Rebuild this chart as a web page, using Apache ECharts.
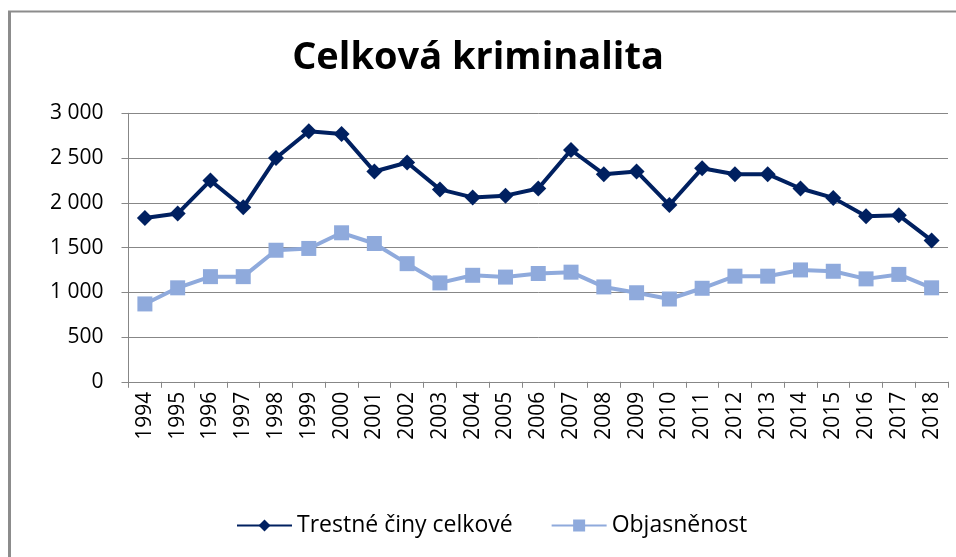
<!DOCTYPE html>
<html>
<head>
<meta charset="utf-8">
<script src="https://cdn.jsdelivr.net/npm/echarts@6/dist/echarts.min.js"></script>
<style>
html,body{margin:0;padding:0;background:#fff;}
#chart{width:956px;height:557px;}
</style>
</head>
<body>
<div id="chart"></div>
<script>
const years = ['1994','1995','1996','1997','1998','1999','2000','2001','2002','2003','2004','2005','2006','2007','2008','2009','2010','2011','2012','2013','2014','2015','2016','2017','2018'];
const trestneCiny = [1830,1880,2250,1950,2500,2800,2770,2350,2450,2150,2060,2080,2160,2590,2320,2350,1975,2385,2320,2320,2160,2055,1850,1860,1580];
const objasnenost = [870,1050,1175,1175,1470,1490,1665,1545,1320,1105,1190,1170,1210,1225,1060,995,925,1045,1180,1180,1250,1235,1150,1200,1050];
const seriesNames = ['Trestné činy celkové','Objasněnost'];
const titleText = 'Celková kriminalita';

const font = '"Open Sans", Lato, sans-serif';
const chart = echarts.init(document.getElementById('chart'));
chart.setOption({
  animation: false,
  backgroundColor: '#fff',
  graphic: [
    {type:'line', shape:{x1:8,y1:11.5,x2:956,y2:11.5}, style:{stroke:'#8c8c8c', lineWidth:2}},
    {type:'line', shape:{x1:9.5,y1:11,x2:9.5,y2:557}, style:{stroke:'#8c8c8c', lineWidth:3}}
  ],
  title: {
    text: titleText,
    left: 'center',
    top: 34,
    textStyle: {fontFamily: font, fontWeight: 'bold', fontSize: 38, color: '#000'}
  },
  legend: {
    bottom: 20,
    left: 236,
    padding: 0,
    itemWidth: 55,
    itemHeight: 15,
    itemGap: 38,
    textStyle: {fontFamily: font, fontSize: 23, color: '#000'},
    data: seriesNames
  },
  grid: {left: 128.5, right: 8, top: 113.3, bottom: 175.2, containLabel: false},
  xAxis: {
    type: 'category',
    data: years,
    boundaryGap: true,
    axisLine: {lineStyle: {color: '#878787', width: 1}},
    axisTick: {show: true, length: 6, lineStyle: {color: '#878787'}},
    axisLabel: {rotate: 90, fontFamily: font, fontSize: 21, color: '#000', margin: 10, interval: 0}
  },
  yAxis: {
    type: 'value',
    min: 0, max: 3000, interval: 500,
    axisLine: {show: true, lineStyle: {color: '#878787'}},
    axisTick: {show: true, length: 7, lineStyle: {color: '#878787'}},
    splitLine: {lineStyle: {color: '#878787', width: 1}},
    axisLabel: {
      fontFamily: font, fontSize: 21, color: '#000', margin: 25,
      formatter: v => String(v).replace(/\B(?=(\d{3})+(?!\d))/g, ' ')
    }
  },
  series: [
    {
      name: seriesNames[0], type: 'line', data: trestneCiny,
      symbol: 'diamond', symbolSize: 16, showAllSymbol: true,
      lineStyle: {color: '#002060', width: 4},
      itemStyle: {color: '#002060'}
    },
    {
      name: seriesNames[1], type: 'line', data: objasnenost,
      symbol: 'rect', symbolSize: 15, showAllSymbol: true,
      lineStyle: {color: '#8faadc', width: 4},
      itemStyle: {color: '#8faadc'}
    }
  ]
});
</script>
</body>
</html>
